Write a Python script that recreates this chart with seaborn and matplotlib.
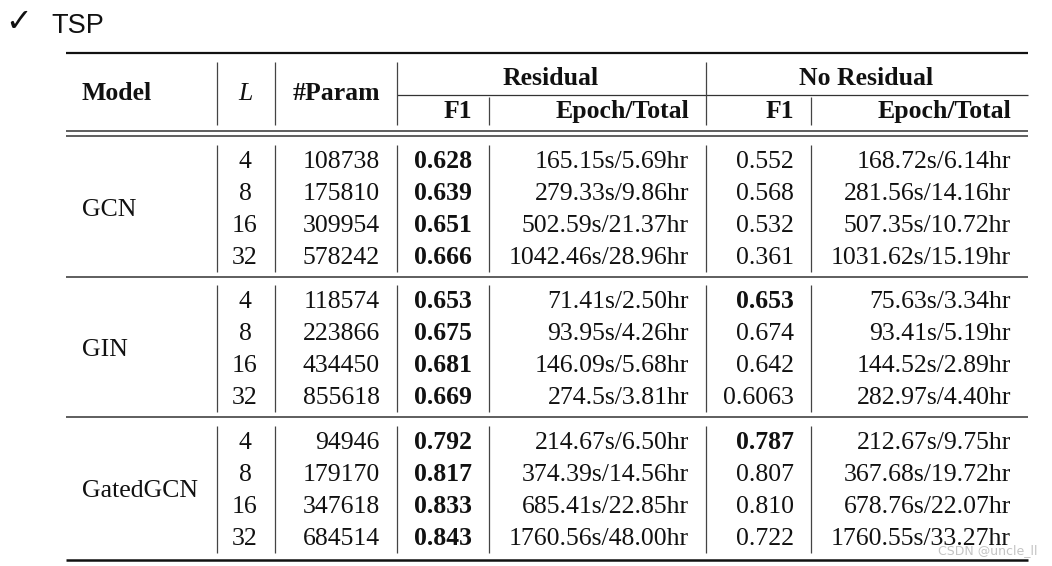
"""
TSP results table (residual vs. no residual) redrawn with seaborn/matplotlib
"""

import matplotlib
matplotlib.use("Agg")
import matplotlib.pyplot as plt
import seaborn as sns

# Table data
models = ["GCN", "GIN", "GatedGCN"]
layers = [4, 8, 16, 32]
params = [
    [108738, 175810, 309954, 578242],
    [118574, 223866, 434450, 855618],
    [94946, 179170, 347618, 684514],
]
res_f1 = [
    ["0.628", "0.639", "0.651", "0.666"],
    ["0.653", "0.675", "0.681", "0.669"],
    ["0.792", "0.817", "0.833", "0.843"],
]
res_time = [
    ["165.15s/5.69hr", "279.33s/9.86hr", "502.59s/21.37hr", "1042.46s/28.96hr"],
    ["71.41s/2.50hr", "93.95s/4.26hr", "146.09s/5.68hr", "274.5s/3.81hr"],
    ["214.67s/6.50hr", "374.39s/14.56hr", "685.41s/22.85hr", "1760.56s/48.00hr"],
]
nores_f1 = [
    ["0.552", "0.568", "0.532", "0.361"],
    ["0.653", "0.674", "0.642", "0.6063"],
    ["0.787", "0.807", "0.810", "0.722"],
]
nores_time = [
    ["168.72s/6.14hr", "281.56s/14.16hr", "507.35s/10.72hr", "1031.62s/15.19hr"],
    ["75.63s/3.34hr", "93.41s/5.19hr", "144.52s/2.89hr", "282.97s/4.40hr"],
    ["212.67s/9.75hr", "367.68s/19.72hr", "678.76s/22.07hr", "1760.55s/33.27hr"],
]
# which no-residual F1 cells are bold in the paper
nores_bold = [
    [False, False, False, False],
    [True, False, False, False],
    [True, False, False, False],
]

# Layout (pixel coordinates)
W, H = 1052, 566
LEFT, RIGHT = 66, 1028
X_MODEL = 82
X_L = 245
X_PARAM = 380
X_RF1 = 472
X_RTIME = 689
X_NF1 = 794
X_NTIME = 1011
VLINES = [217, 275, 397, 489, 706, 811]
GROUP_Y0 = [168, 308, 449]
ROW_H = 32
FS = 18.5
INK = "#111111"

sns.set_theme(style="white")
plt.rcParams["font.family"] = ["Liberation Serif", "DejaVu Serif"]

fig = plt.figure(figsize=(W / 100, H / 100), dpi=100)
ax = fig.add_axes([0, 0, 1, 1])
ax.set_xlim(0, W)
ax.set_ylim(H, 0)
ax.axis("off")

# Title
ax.text(5, 31, "\u2713", fontsize=23, fontweight="bold", family=["DejaVu Sans"],
        color=INK, va="baseline")
ax.text(51, 33, "TSP", fontsize=19.5, family=["Liberation Sans", "DejaVu Sans"],
        color=INK, va="baseline")

# Header rules
ax.hlines(53, LEFT, RIGHT, color=INK, lw=1.6)
ax.hlines(95, 397, RIGHT, color="#333333", lw=0.9)
ax.hlines([131, 136], LEFT, RIGHT, color="#333333", lw=1.1)
ax.vlines([217, 275, 397, 706], 62, 125, color="#444444", lw=0.9)
ax.vlines([489, 811], 97, 125, color="#444444", lw=0.9)

# Header text
ax.text(X_MODEL, 100, "Model", fontsize=FS, fontweight="bold", color=INK, va="baseline")
ax.text(X_L, 100, "L", fontsize=FS, style="italic", color=INK, va="baseline", ha="center")
ax.text(X_PARAM, 100, "#Param", fontsize=FS, fontweight="bold", color=INK,
        va="baseline", ha="right")
ax.text(551, 85, "Residual", fontsize=FS, fontweight="bold", color=INK,
        va="baseline", ha="center")
ax.text(866, 85, "No Residual", fontsize=FS, fontweight="bold", color=INK,
        va="baseline", ha="center")
for x, lab in [(X_RF1, "F1"), (X_RTIME, "Epoch/Total"), (X_NF1, "F1"), (X_NTIME, "Epoch/Total")]:
    ax.text(x, 118, lab, fontsize=FS, fontweight="bold", color=INK, va="baseline", ha="right")

# Body
for g, model in enumerate(models):
    y0 = GROUP_Y0[g]
    ys = [y0 + i * ROW_H for i in range(len(layers))]
    ax.text(X_MODEL, (ys[0] + ys[-1]) / 2, model, fontsize=FS, color=INK,
            va="baseline")
    ax.vlines(VLINES, ys[0] - 23, ys[-1] + 8, color="#444444", lw=0.9)
    for i, y in enumerate(ys):
        ax.text(X_L, y, str(layers[i]), fontsize=FS, color=INK, va="baseline", ha="center")
        ax.text(X_PARAM, y, str(params[g][i]), fontsize=FS, color=INK, va="baseline", ha="right")
        ax.text(X_RF1, y, res_f1[g][i], fontsize=FS, fontweight="bold", color=INK,
                va="baseline", ha="right")
        ax.text(X_RTIME, y, res_time[g][i], fontsize=FS, color=INK, va="baseline", ha="right")
        ax.text(X_NF1, y, nores_f1[g][i], fontsize=FS, color=INK, va="baseline", ha="right",
                fontweight="bold" if nores_bold[g][i] else "normal")
        ax.text(X_NTIME, y, nores_time[g][i], fontsize=FS, color=INK, va="baseline", ha="right")
    if g < len(models) - 1:
        ax.hlines(ys[-1] + 13, LEFT, RIGHT, color="#333333", lw=1.1)

# Bottom rule
ax.hlines(560, LEFT, RIGHT, color=INK, lw=1.8)

# Watermark (sits over the last cell, as in the source screenshot)
ax.text(1037, 554, "CSDN @uncle_ll", fontsize=9, family=["DejaVu Sans"],
        color="#c4c4c4", va="baseline", ha="right")

fig.savefig("out.png", dpi=100)
plt.close(fig)
